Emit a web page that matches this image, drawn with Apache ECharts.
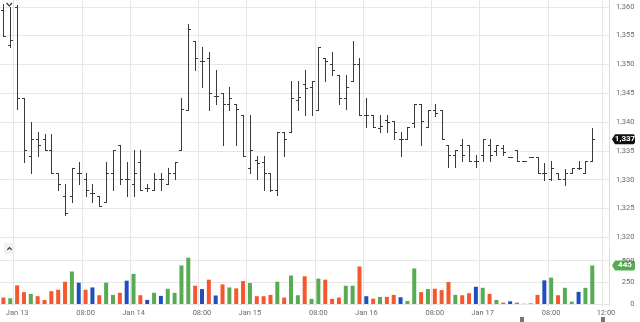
<!DOCTYPE html>
<html><head><meta charset="utf-8">
<script src="https://cdn.jsdelivr.net/npm/echarts@6/dist/echarts.min.js"></script>
<style>html,body{margin:0;padding:0;background:#fff}#c{width:640px;height:322px}</style>
</head><body><div id="c"></div>
<script>
// ---- data (hourly-ish OHLC bars) ----
const opens  = [1359.5,1353.3,1360.0,1344.1,1334.1,1337.1,1337.1,1335.2,1331.2,1327.2,1327.2,1331.2,1330.1,1327.7,1327.2,1326.2,1331.2,1336.1,1330.1,1329.2,1333.1,1328.6,1328.2,1330.1,1329.2,1331.2,1335.2,1342.1,1354.0,1350.6,1351.1,1344.6,1345.1,1343.2,1343.2,1341.2,1332.1,1333.4,1333.1,1331.2,1328.2,1338.2,1338.2,1343.8,1346.6,1346.1,1342.1,1351.1,1350.1,1348.1,1344.1,1347.2,1350.1,1341.2,1341.2,1338.9,1340.4,1340.2,1337.1,1337.0,1339.8,1343.2,1339.1,1342.1,1342.1,1336.1,1334.2,1336.1,1336.1,1333.2,1334.2,1336.0,1335.0,1335.5,1334.0,1335.2,1333.2,1334.0,1334.0,1331.1,1330.1,1331.1,1330.1,1331.1,1332.1,1331.1,1333.2];
const highs  = [1360.5,1360.0,1360.3,1344.1,1340.0,1338.2,1338.0,1338.0,1331.2,1329.2,1332.1,1333.1,1331.2,1329.2,1327.2,1333.1,1335.2,1336.1,1333.1,1335.2,1335.2,1329.2,1331.2,1331.2,1332.1,1333.1,1344.1,1357.1,1354.0,1353.0,1352.1,1349.1,1345.1,1346.1,1343.2,1341.2,1341.2,1334.1,1334.1,1331.2,1338.2,1338.2,1347.2,1347.2,1349.1,1347.2,1353.0,1351.1,1352.1,1348.1,1348.1,1354.0,1351.1,1344.1,1341.2,1341.2,1341.2,1340.2,1338.2,1339.1,1343.2,1343.2,1342.1,1343.2,1342.1,1336.1,1335.2,1337.0,1336.1,1334.2,1337.0,1337.0,1336.1,1336.1,1334.0,1335.2,1333.2,1334.0,1334.0,1332.9,1333.2,1331.2,1331.9,1332.1,1333.2,1333.2,1339.0];
const lows   = [1355.0,1353.1,1342.2,1333.1,1331.2,1334.1,1335.2,1331.2,1328.2,1323.9,1326.2,1329.2,1327.2,1326.2,1325.4,1326.2,1328.2,1329.2,1327.2,1327.2,1328.2,1328.0,1328.2,1328.2,1329.2,1330.1,1335.2,1342.1,1349.1,1346.1,1342.1,1343.2,1336.1,1342.1,1336.1,1334.1,1331.2,1330.1,1328.2,1328.0,1327.3,1334.1,1338.2,1342.1,1341.2,1341.2,1342.1,1347.2,1348.1,1343.2,1342.2,1347.2,1341.2,1339.2,1339.2,1338.2,1338.2,1337.1,1334.1,1337.0,1339.1,1336.1,1339.1,1341.0,1337.0,1332.2,1332.2,1333.2,1333.2,1332.2,1333.2,1333.2,1334.2,1334.2,1334.0,1333.2,1333.2,1334.0,1331.1,1329.9,1330.0,1330.1,1329.1,1331.1,1331.9,1331.1,1333.2];
const closes = [1355.0,1354.2,1344.1,1335.2,1337.1,1336.1,1335.2,1331.2,1329.2,1324.2,1332.1,1331.2,1328.2,1327.7,1325.4,1331.2,1335.2,1330.1,1330.1,1331.2,1328.2,1328.6,1330.1,1330.1,1331.2,1333.1,1342.2,1356.1,1351.1,1350.6,1345.1,1344.6,1343.2,1344.1,1342.2,1334.1,1335.2,1332.9,1331.2,1328.2,1338.2,1337.1,1344.1,1344.4,1345.9,1347.2,1353.0,1350.6,1349.1,1344.1,1346.1,1350.1,1341.2,1341.2,1339.2,1339.4,1340.0,1338.2,1337.1,1339.1,1343.2,1340.1,1342.1,1341.5,1337.0,1334.2,1335.2,1334.2,1333.2,1333.2,1337.0,1334.2,1336.0,1334.8,1334.0,1333.2,1333.2,1334.0,1331.1,1331.1,1332.1,1330.1,1331.1,1332.1,1332.1,1333.2,1337.0];
const volumes = [74,66,215,137,117,90,47,148,164,257,375,246,164,191,101,246,105,129,269,347,101,47,129,94,176,129,445,534,211,172,281,98,226,191,180,265,242,90,90,105,257,74,328,101,320,59,293,281,59,74,211,211,433,90,62,82,82,105,78,35,410,137,172,176,160,254,105,101,125,199,187,117,47,16,31,16,2,5,105,273,304,101,187,27,140,187,445];
const slotCount = 89;   // bar slots on the time axis (last ones are empty)
const tickIndex = [2,12,19,29,36,46,53,63,70,80,88];
const tickText  = ['Jan 13','08:00','Jan 14','08:00','Jan 15','08:00','Jan 16','08:00','Jan 17','08:00','12:00'];
const lastPrice = 1337;
const lastVolume = 445;

// ---- styling ----
const UP='#57ab52', DOWN='#f4582f', FLAT='#1f4fbf';
const GRID='#e6e6e6', LBL='#6b6b6b', FONT='Roboto';
const L=-1.15, R=30.6;
const cats = Array.from({length: slotCount}, (_, i) => String(i));
const dirColor = i => closes[i] > opens[i] ? UP : (closes[i] < opens[i] ? DOWN : FLAT);
const tickInterval = idx => tickIndex.includes(idx);
const tickFmt = (v, idx) => { const k = tickIndex.indexOf(idx); return k >= 0 ? tickText[k] : ''; };
const numFmt = v => Number(v).toLocaleString('en-US');

const chart = echarts.init(document.getElementById('c'), null, {renderer:'canvas'});
chart.setOption({
  animation:false,
  grid:[
    {left:L, right:R, top:0, bottom:84.7},
    {left:L, right:R, top:250, bottom:18},
    {left:L, right:R, top:0, bottom:16}
  ],
  xAxis:[
    {type:'category', gridIndex:0, data:cats, boundaryGap:true, axisLine:{show:false}, axisTick:{show:false}, axisLabel:{show:false}, splitLine:{show:false}},
    {type:'category', gridIndex:1, data:cats, boundaryGap:true, axisLine:{show:false}, axisTick:{show:false},
      axisLabel:{show:true, interval:tickInterval, formatter:tickFmt, color:LBL, fontSize:7.5, fontFamily:FONT, margin:5}, splitLine:{show:false}},
    {type:'category', gridIndex:2, data:cats, boundaryGap:true, axisLine:{show:false}, axisTick:{show:false}, axisLabel:{show:false},
      splitLine:{show:true, interval:tickInterval, lineStyle:{color:GRID, width:1}}}
  ],
  yAxis:[
    {type:'value', gridIndex:0, position:'right', min:1320, max:1361.18, interval:5, scale:true,
      axisLine:{show:true, lineStyle:{color:'#dcdcdc'}}, axisTick:{show:false},
      axisLabel:{color:LBL, fontSize:7.5, fontFamily:FONT, align:'right', margin:25, formatter:numFmt, showMaxLabel:false},
      splitLine:{show:true, showMaxLine:false, lineStyle:{color:GRID}}},
    {type:'value', gridIndex:1, position:'right', min:0, max:623, interval:250,
      axisLine:{show:true, lineStyle:{color:'#dcdcdc'}}, axisTick:{show:false},
      axisLabel:{color:LBL, fontSize:7.5, fontFamily:FONT, align:'right', margin:25, formatter:numFmt, showMaxLabel:false},
      splitLine:{show:true, showMaxLine:false, lineStyle:{color:GRID}}},
    {type:'value', gridIndex:2, min:0, max:1, show:false}
  ],
  series:[
    {type:'custom', xAxisIndex:0, yAxisIndex:0, silent:true,
      data: opens.map((o, i) => [i, o, highs[i], lows[i], closes[i]]),
      encode:{x:0, y:[1,2,3,4]},
      renderItem(params, api){
        const i = api.value(0);
        const p = api.coord([i, api.value(1)]);
        const x = Math.round(p[0]) + 0.5;
        const yO = Math.round(p[1]) + 0.5;
        const yH = Math.round(api.coord([i, api.value(2)])[1]);
        const yL = Math.round(api.coord([i, api.value(3)])[1]) + 1;
        const yC = Math.round(api.coord([i, api.value(4)])[1]) + 0.5;
        const st = {stroke:'#3a3a3a', lineWidth:1};
        return {type:'group', children:[
          {type:'line', shape:{x1:x, y1:yH, x2:x, y2:yL}, style:st},
          {type:'line', shape:{x1:x-2.5, y1:yO, x2:x, y2:yO}, style:st},
          {type:'line', shape:{x1:x, y1:yC, x2:x+2.5, y2:yC}, style:st}
        ]};
      }},
    {type:'bar', xAxisIndex:1, yAxisIndex:1, silent:true, barWidth:4,
      data: volumes.map((v, i) => ({value:v, itemStyle:{color:dirColor(i)}}))}
  ]
});

// tags on the right axis + small UI marks
const yP = chart.convertToPixel({yAxisIndex:0}, lastPrice);
const yV = chart.convertToPixel({yAxisIndex:1}, lastVolume);
function tag(y, fill, text){
  const x0 = 612, x1 = 635, h = 10;
  return {type:'group', children:[
    {type:'polygon', shape:{points:[[x0, y],[x0+3, y-h/2],[x1-1.5, y-h/2],[x1, y-h/2+1.5],[x1, y+h/2-1.5],[x1-1.5, y+h/2],[x0+3, y+h/2]]}, style:{fill:fill}},
    {type:'text', x:(x0+3+x1)/2, y:y, style:{text:text, fill:'#fff', font:'bold 8px Roboto', align:'center', verticalAlign:'middle'}}
  ]};
}
chart.setOption({graphic:[
  tag(yP, '#111', numFmt(lastPrice)),
  tag(yV, UP, String(lastVolume)),
  {type:'polyline', shape:{points:[[6.5,3],[9.2,5.8],[12,3]]}, style:{stroke:'#333', lineWidth:1.2, fill:null}},
  {type:'rect', shape:{x:4, y:243, width:11, height:11, r:2}, style:{fill:'#f1f1f1'}},
  {type:'polyline', shape:{points:[[7.3,249.8],[9.5,247.5],[11.7,249.8]]}, style:{stroke:'#333', lineWidth:1.2, fill:null}},
  {type:'rect', shape:{x:520, y:317, width:4, height:5}, style:{fill:'#777'}},
  {type:'rect', shape:{x:601, y:317, width:4, height:5}, style:{fill:'#777'}}
]});
</script></body></html>
